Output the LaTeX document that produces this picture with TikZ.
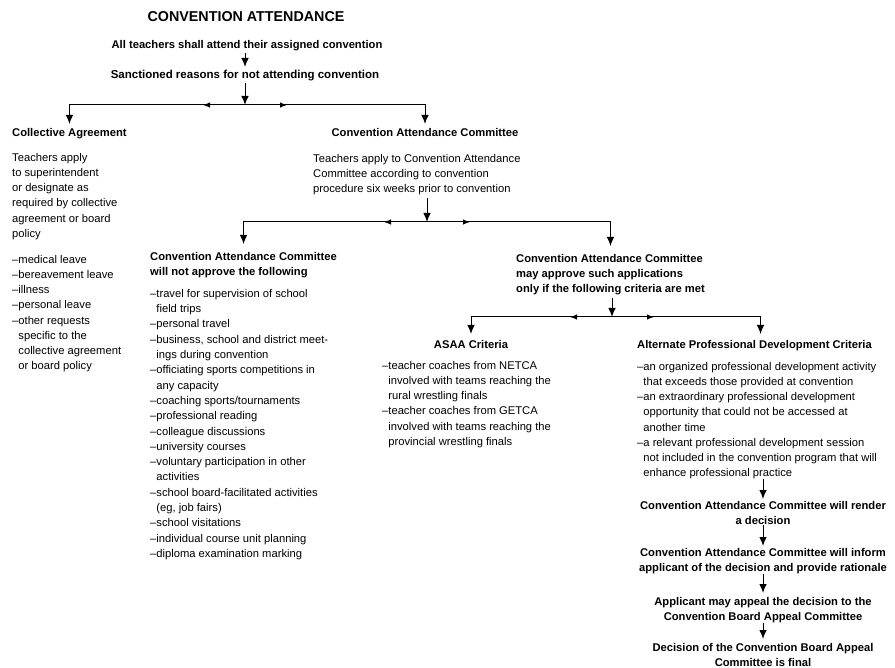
\documentclass[tikz,border=0pt]{standalone}
\usepackage{fontspec}
\setmainfont{Liberation Sans}
\usetikzlibrary{arrows.meta,decorations.markings}

\tikzset{
  head/.style={font=\bfseries\fontsize{11.2}{15.2}\selectfont, inner sep=0pt, align=left},
  body/.style={font=\fontsize{11.2}{15.2}\selectfont, inner sep=0pt, align=left},
  flow/.style={line width=1pt, -{Latex[length=9pt,width=7.5pt]}, shorten >=4pt},
  midtip/.style={postaction={decorate}, decoration={markings, mark=at position #1 with {\arrow{Latex[length=7pt,width=5.5pt]}}}},
}
\newcommand{\contline}{\hphantom{–}}

\begin{document}
\begin{tikzpicture}[x=1pt,y=-1pt]
    \path[fill=white] (0,0) rectangle (895,668);
    \useasboundingbox (0,0) rectangle (895,668);
    \node[head, font=\bfseries\fontsize{14.3}{17}\selectfont] at (246,17) (title) {CONVENTION ATTENDANCE};
    \node[head, anchor=north] at (247,40) (all) {All teachers shall attend their assigned convention};
    \node[head, anchor=north, font=\bfseries\fontsize{11.5}{15.2}\selectfont] at (245,70) (sanct) {Sanctioned reasons for not attending convention};
    \coordinate (b1) at (245,105);
    \node[head, anchor=north west] at (12,128) (coll) {Collective Agreement};
    \node[body, anchor=north west] at (12,153) (collbody) {Teachers apply\\to superintendent\\or designate as\\required by collective\\agreement or board\\policy};
    \node[body, anchor=north west] at (12,255) (colllist) {–medical leave\\–bereavement leave\\–illness\\–personal leave\\–other requests\\\contline specific to the\\\contline collective agreement\\\contline or board policy};
    \node[head, anchor=north] at (425,128) (cac) {Convention Attendance Committee};
    \node[body, anchor=north west] at (313,154) (cacbody) {Teachers apply to Convention Attendance\\Committee according to convention\\procedure six weeks prior to convention};
    \coordinate (b2) at (427,222);
    \node[head, anchor=north west] at (150,252) (notap) {Convention Attendance Committee\\will not approve the following};
    \node[body, anchor=north west, font=\fontsize{11.2}{15.3}\selectfont] at (150,289) (notaplist) {–travel for supervision of school\\\contline field trips\\–personal travel\\–business, school and district meet-\\\contline ings during convention\\–officiating sports competitions in\\\contline any capacity\\–coaching sports/tournaments\\–professional reading\\–colleague discussions\\–university courses\\–voluntary participation in other\\\contline activities\\–school board-facilitated activities\\\contline (eg, job fairs)\\–school visitations\\–individual course unit planning\\–diploma examination marking};
    \node[head, anchor=north west] at (516,254) (mayap) {Convention Attendance Committee\\may approve such applications\\only if the following criteria are met};
    \coordinate (b3) at (612,317);
    \node[head, anchor=north] at (471,340) (asaa) {ASAA Criteria};
    \node[body, anchor=north west] at (382,361) (asaalist) {–teacher coaches from NETCA\\\contline involved with teams reaching the\\\contline rural wrestling finals\\–teacher coaches from GETCA\\\contline involved with teams reaching the\\\contline provincial wrestling finals};
    \node[head, anchor=north west] at (637,340) (apd) {Alternate Professional Development Criteria};
    \node[body, anchor=north west] at (637,362) (apdlist) {–an organized professional development activity\\\contline that exceeds those provided at convention\\–an extraordinary professional development\\\contline opportunity that could not be accessed at\\\contline another time\\–a relevant professional development session\\\contline not included in the convention program that will\\\contline enhance professional practice};
    \node[head, anchor=north, align=center] at (763,501) (render) {Convention Attendance Committee will render\\a decision};
    \node[head, anchor=north, align=center] at (763,548) (inform) {Convention Attendance Committee will inform\\applicant of the decision and provide rationale};
    \node[head, anchor=north, align=center] at (763,597) (appeal) {Applicant may appeal the decision to the\\Convention Board Appeal Committee};
    \node[head, anchor=north, align=center] at (763,643) (final) {Decision of the Convention Board Appeal\\Committee is final};
    \draw[flow, shorten <=2pt, shorten >=3pt] (all.south -| b1) -- (sanct.north -| b1);
    \draw[flow, shorten >=0pt, shorten <=2pt] (sanct.south -| b1) -- (b1);
    \draw[flow, midtip=42pt] (b1) -| (coll.north);
    \draw[flow, midtip=42pt] (b1) -| (cac.north);
    \draw[flow, shorten >=0pt, shorten <=3pt] (cacbody.south -| b2) -- (b2);
    \draw[flow, midtip=43pt, shorten >=8pt] (b2) -| (notap.north);
    \draw[flow, midtip=43pt, shorten >=8pt] (b2) -| (mayap.north);
    \draw[flow, shorten >=0pt, shorten <=3pt] (mayap.south -| b3) -- (b3);
    \draw[flow, midtip=42pt, shorten >=6pt] (b3) -| (asaa.north);
    \draw[flow, midtip=42pt, shorten >=6pt] (b3) -| ([xshift=6pt]apd.north);
    \draw[flow, shorten >=2pt] (apdlist.south -| render.north) -- (render.north);
    \draw[flow, shorten >=2pt] (render.south) -- (inform.north);
    \draw[flow, shorten >=4pt] (inform.south) -- (appeal.north);
    \draw[flow, shorten >=4pt] (appeal.south) -- (final.north);
\end{tikzpicture}
\end{document}
